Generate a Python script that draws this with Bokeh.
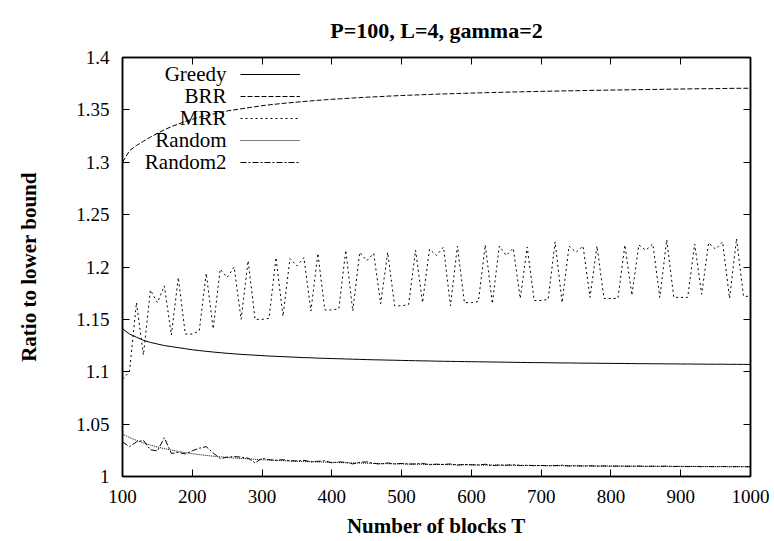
from bokeh.plotting import figure
from bokeh.models import Range1d, FixedTicker, LinearAxis, Legend, LegendItem, Label
from bokeh.embed import file_html
from bokeh.resources import INLINE

# ---------------- data ----------------
T = list(range(100, 1001, 10))

greedy = [1.1410, 1.1360, 1.1330, 1.1300, 1.1280, 1.1265, 1.1250, 1.1240, 1.1230, 1.1220,
          1.1210, 1.1202, 1.1195, 1.1188, 1.1182, 1.1176, 1.1171, 1.1166, 1.1162, 1.1158,
          1.1154, 1.1150, 1.1147, 1.1144, 1.1141, 1.1138, 1.1135, 1.1133, 1.1130, 1.1128,
          1.1126, 1.1124, 1.1122, 1.1120, 1.1118, 1.1116, 1.1114, 1.1113, 1.1111, 1.1110,
          1.1108, 1.1107, 1.1105, 1.1104, 1.1103, 1.1101, 1.1100, 1.1099, 1.1098, 1.1097,
          1.1096, 1.1095, 1.1094, 1.1093, 1.1092, 1.1091, 1.1090, 1.1089, 1.1088, 1.1087,
          1.1087, 1.1086, 1.1085, 1.1084, 1.1084, 1.1083, 1.1082, 1.1082, 1.1081, 1.1080,
          1.1080, 1.1079, 1.1079, 1.1078, 1.1077, 1.1077, 1.1076, 1.1076, 1.1075, 1.1075,
          1.1074, 1.1074, 1.1073, 1.1073, 1.1072, 1.1072, 1.1072, 1.1071, 1.1071, 1.1070,
          1.1070]

brr = [1.3000, 1.3110, 1.3160, 1.3200, 1.3240, 1.3275, 1.3310, 1.3340, 1.3365, 1.3390,
       1.3410, 1.3430, 1.3445, 1.3460, 1.3475, 1.3490, 1.3500, 1.3510, 1.3520, 1.3530,
       1.3540, 1.3548, 1.3555, 1.3562, 1.3568, 1.3574, 1.3580, 1.3586, 1.3591, 1.3596,
       1.3601, 1.3605, 1.3609, 1.3613, 1.3617, 1.3621, 1.3624, 1.3627, 1.3631, 1.3634,
       1.3637, 1.3640, 1.3642, 1.3645, 1.3647, 1.3650, 1.3652, 1.3654, 1.3656, 1.3658,
       1.3660, 1.3662, 1.3664, 1.3666, 1.3667, 1.3669, 1.3671, 1.3672, 1.3674, 1.3675,
       1.3677, 1.3678, 1.3679, 1.3681, 1.3682, 1.3683, 1.3684, 1.3686, 1.3687, 1.3688,
       1.3689, 1.3690, 1.3691, 1.3692, 1.3693, 1.3694, 1.3695, 1.3696, 1.3697, 1.3698,
       1.3699, 1.3700, 1.3701, 1.3702, 1.3702, 1.3703, 1.3704, 1.3705, 1.3706, 1.3706,
       1.3707]

mrr = [1.093, 1.100, 1.166, 1.116, 1.178, 1.166, 1.182, 1.135, 1.190, 1.136,
       1.136, 1.139, 1.194, 1.141, 1.198, 1.190, 1.200, 1.150, 1.206, 1.150,
       1.150, 1.151, 1.209, 1.153, 1.208, 1.201, 1.209, 1.158, 1.213, 1.159,
       1.159, 1.160, 1.216, 1.158, 1.214, 1.206, 1.213, 1.165, 1.214, 1.163,
       1.163, 1.164, 1.216, 1.166, 1.217, 1.211, 1.219, 1.163, 1.220, 1.166,
       1.166, 1.167, 1.221, 1.165, 1.220, 1.211, 1.218, 1.170, 1.219, 1.168,
       1.168, 1.169, 1.224, 1.166, 1.220, 1.214, 1.220, 1.171, 1.220, 1.170,
       1.170, 1.170, 1.221, 1.173, 1.221, 1.216, 1.222, 1.171, 1.226, 1.171,
       1.171, 1.171, 1.222, 1.174, 1.223, 1.217, 1.224, 1.170, 1.227, 1.172,
       1.172]

random1 = [1.0405, 1.0372, 1.0345, 1.0320, 1.0300, 1.0282, 1.0266, 1.0252, 1.0239, 1.0228,
           1.0218, 1.0209, 1.0201, 1.0194, 1.0188, 1.0182, 1.0177, 1.0172, 1.0168, 1.0164,
           1.0160, 1.0157, 1.0154, 1.0151, 1.0148, 1.0146, 1.0143, 1.0141, 1.0139, 1.0137,
           1.0135, 1.0133, 1.0131, 1.0130, 1.0128, 1.0127, 1.0125, 1.0124, 1.0122, 1.0121,
           1.0120, 1.0119, 1.0118, 1.0117, 1.0116, 1.0115, 1.0114, 1.0113, 1.0112, 1.0112,
           1.0111, 1.0110, 1.0109, 1.0109, 1.0108, 1.0107, 1.0107, 1.0106, 1.0105, 1.0105,
           1.0104, 1.0104, 1.0103, 1.0103, 1.0102, 1.0102, 1.0101, 1.0101, 1.0100, 1.0100,
           1.0100, 1.0099, 1.0099, 1.0099, 1.0098, 1.0098, 1.0098, 1.0097, 1.0097, 1.0097,
           1.0096, 1.0096, 1.0096, 1.0095, 1.0095, 1.0095, 1.0095, 1.0094, 1.0094, 1.0094,
           1.0094]

random2 = [1.0330, 1.0285, 1.0330, 1.0345, 1.0255, 1.0245, 1.0370, 1.0220, 1.0230, 1.0215,
           1.0245, 1.0270, 1.0285, 1.0225, 1.0170, 1.0185, 1.0190, 1.0185, 1.0175, 1.0130,
           1.0175, 1.0160, 1.0155, 1.0160, 1.0150, 1.0148, 1.0155, 1.0140, 1.0145, 1.0150,
           1.0130, 1.0140, 1.0135, 1.0120, 1.0135, 1.0140, 1.0125, 1.0118, 1.0130, 1.0120,
           1.0125, 1.0118, 1.0120, 1.0125, 1.0112, 1.0118, 1.0115, 1.0120, 1.0108, 1.0116,
           1.0112, 1.0110, 1.0117, 1.0104, 1.0110, 1.0108, 1.0112, 1.0105, 1.0108, 1.0103,
           1.0106, 1.0102, 1.0104, 1.0108, 1.0100, 1.0103, 1.0099, 1.0102, 1.0099, 1.0101,
           1.0097, 1.0100, 1.0098, 1.0097, 1.0100, 1.0096, 1.0098, 1.0096, 1.0099, 1.0095,
           1.0097, 1.0094, 1.0096, 1.0094, 1.0095, 1.0093, 1.0095, 1.0093, 1.0094, 1.0093,
           1.0093]

x_ticks = [100, 200, 300, 400, 500, 600, 700, 800, 900, 1000]
y_ticks = [1.0, 1.05, 1.1, 1.15, 1.2, 1.25, 1.3, 1.35, 1.4]
y_tick_labels = ["1", "1.05", "1.1", "1.15", "1.2", "1.25", "1.3", "1.35", "1.4"]

series_names = ["Greedy", "BRR", "MRR", "Random", "Random2"]

# ---------------- figure ----------------
FONT = "Liberation Serif"

p = figure(width=774, height=541, output_backend="svg", toolbar_location=None,
           x_range=Range1d(100, 1000), y_range=Range1d(1.0, 1.4),
           min_border_left=122, min_border_right=24, min_border_top=57,
           min_border_bottom=65, background_fill_color="white",
           border_fill_color="white")

p.title.text = "P=100, L=4, gamma=2"
p.title.align = "center"
p.title.text_font = FONT
p.title.text_font_size = "22px"
p.title.text_font_style = "bold"
p.title.text_color = "black"
p.title.standoff = 29

p.xgrid.visible = False
p.ygrid.visible = False
p.outline_line_color = "black"
p.outline_line_width = 1.5

styles = ["solid", "5 2", "2 3", "1 1", "6 2 2 2"]
data = [greedy, brr, mrr, random1, random2]
renderers = []
for ys, dash in zip(data, styles):
    r = p.line(T, ys, line_color="black", line_width=1, line_dash=dash)
    renderers.append(r)

# extra mirrored axes (ticks only)
p.add_layout(LinearAxis(), "above")
p.add_layout(LinearAxis(), "right")

for ax in p.xaxis:
    ax.ticker = FixedTicker(ticks=x_ticks)
for ax in p.yaxis:
    ax.ticker = FixedTicker(ticks=y_ticks)
    ax.major_label_overrides = dict(zip(y_ticks, y_tick_labels))

for ax in p.axis:
    ax.major_tick_in = 7
    ax.major_tick_out = 0
    ax.minor_tick_in = 0
    ax.minor_tick_out = 0
    ax.major_tick_line_color = "black"
    ax.major_tick_line_width = 1
    ax.axis_line_color = "black"
    ax.axis_line_width = 1.5
    ax.major_label_text_font = FONT
    ax.major_label_text_font_size = "19px"
    ax.major_label_text_color = "black"
    ax.axis_label_text_font = FONT
    ax.axis_label_text_font_size = "21px"
    ax.axis_label_text_font_style = "bold"
    ax.axis_label_text_color = "black"

top_ax = p.above[-1]
right_ax = p.right[-1]
top_ax.major_label_overrides = {t: "" for t in x_ticks}
right_ax.major_label_overrides = {t: "" for t in y_ticks}
top_ax.major_label_standoff = 0
right_ax.major_label_standoff = 0

p.below[0].axis_label = "Number of blocks T"
p.below[0].major_label_standoff = 13
p.below[0].axis_label_standoff = 8
p.left[0].axis_label = "Ratio to lower bound"
p.left[0].major_label_standoff = 13
p.left[0].axis_label_standoff = 32

# legend: line samples from the renderers, names right-aligned to their left
legend = Legend(
    items=[LegendItem(label=" ", renderers=[r]) for r in renderers],
    location=(118, 304), glyph_width=60, glyph_height=20, label_height=20,
    label_standoff=0, spacing=2, padding=0, margin=0,
    background_fill_alpha=0, border_line_color=None,
    label_text_font=FONT, label_text_font_size="19px")
p.add_layout(legend)

for i, name in enumerate(series_names):
    p.add_layout(Label(x=104, y=403 - 22 * i, x_units="screen", y_units="screen",
                       text=name, text_align="right", text_baseline="middle",
                       text_font=FONT, text_font_size="21px", text_color="black"))

open("out.html", "w").write(file_html(p, INLINE))
